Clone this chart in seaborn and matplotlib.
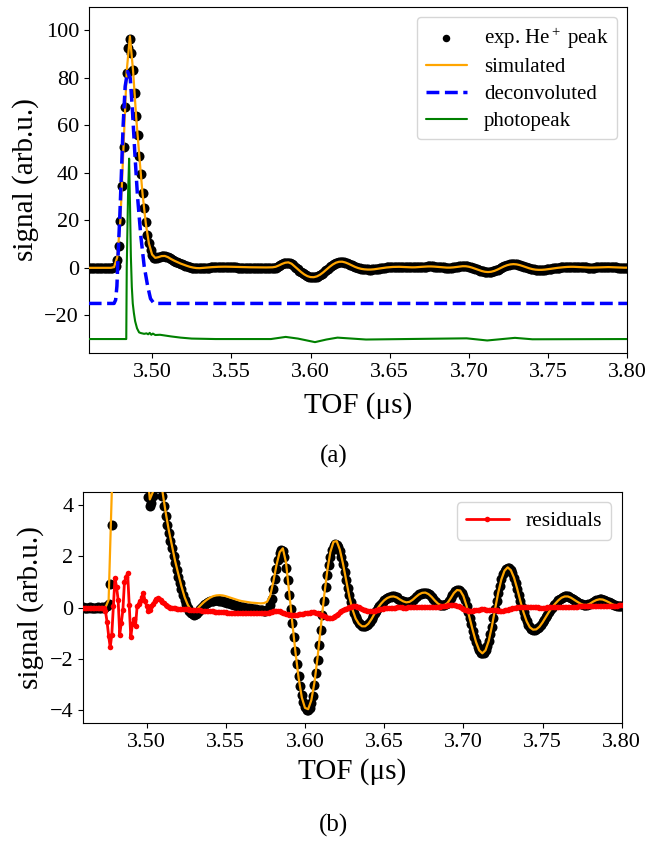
import numpy as np
import pandas as pd
import matplotlib
matplotlib.use("Agg")
import matplotlib.pyplot as plt
import seaborn as sns

# sampling of the traces (TOF in microseconds)
t_start = 3.460
step_exp = 0.001   # 1 ns digitizer samples (exp. points, residuals)
step_sim = 0.002   # simulated trace

# measured He+ peak, one row = 10 ns, row start in the comment
exp_peak = [
    0.01, 0.0, -0.01, 0.0, 0.01, 0.0, 0.0, -0.01, 0.0, 0.01,          # 3.460
    0.0, 0.0, 0.01, 0.0, 0.02, 0.05, 0.15, 0.9, 3.2, 9.1,             # 3.470
    19.6, 34.4, 50.8, 67.7, 82.1, 92.6, 96.5, 90.5, 83.5, 73.6,       # 3.480
    63.8, 56.1, 47.0, 39.5, 31.6, 25.2, 19.2, 14.0, 10.5, 7.6,        # 3.490
    5.5, 4.3, 3.95, 4.05, 4.35, 4.65, 4.85, 4.95, 4.9, 4.7,           # 3.500
    4.35, 3.95, 3.55, 3.2, 2.9, 2.6, 2.3, 2.0, 1.72, 1.45,            # 3.510
    1.2, 0.95, 0.72, 0.5, 0.3, 0.13, -0.02, -0.13, -0.22, -0.27,      # 3.520
    -0.28, -0.26, -0.2, -0.12, -0.04, 0.03, 0.09, 0.14, 0.18, 0.21,   # 3.530
    0.24, 0.26, 0.27, 0.28, 0.28, 0.28, 0.27, 0.26, 0.24, 0.22,       # 3.540
    0.2, 0.18, 0.16, 0.14, 0.12, 0.1, 0.08, 0.06, 0.05, 0.03,         # 3.550
    0.02, 0.01, 0.0, -0.01, -0.02, -0.03, -0.04, -0.05, -0.06, -0.07, # 3.560
    -0.08, -0.09, -0.1, -0.11, -0.12, -0.12, -0.1, -0.05, 0.1, 0.35,  # 3.570
    0.7, 1.1, 1.5, 1.85, 2.1, 2.22, 2.2, 1.95, 1.55, 1.05,            # 3.580
    0.5, -0.05, -0.6, -1.15, -1.7, -2.2, -2.65, -3.05, -3.4, -3.68,   # 3.590
    -3.88, -3.98, -4.0, -3.92, -3.72, -3.42, -3.02, -2.55, -2.02, -1.45,  # 3.600
    -0.87, -0.3, 0.25, 0.78, 1.25, 1.65, 1.98, 2.22, 2.38, 2.45,      # 3.610
    2.44, 2.35, 2.18, 1.95, 1.68, 1.38, 1.07, 0.77, 0.48, 0.22,       # 3.620
    -0.01, -0.2, -0.36, -0.49, -0.59, -0.66, -0.7, -0.72, -0.72, -0.69,   # 3.630
    -0.63, -0.55, -0.45, -0.34, -0.23, -0.12, -0.02, 0.07, 0.15, 0.22,    # 3.640
    0.28, 0.33, 0.37, 0.4, 0.42, 0.43, 0.43, 0.42, 0.39, 0.35,        # 3.650
    0.31, 0.27, 0.24, 0.21, 0.2, 0.2, 0.22, 0.25, 0.3, 0.35,          # 3.660
    0.41, 0.46, 0.51, 0.54, 0.57, 0.58, 0.58, 0.56, 0.52, 0.47,       # 3.670
    0.41, 0.34, 0.27, 0.2, 0.15, 0.11, 0.09, 0.08, 0.09, 0.12,        # 3.680
    0.18, 0.26, 0.36, 0.47, 0.56, 0.63, 0.68, 0.69, 0.66, 0.58,       # 3.690
    0.45, 0.28, 0.07, -0.16, -0.41, -0.66, -0.9, -1.13, -1.34, -1.52, # 3.700
    -1.66, -1.75, -1.78, -1.75, -1.66, -1.51, -1.3, -1.04, -0.74, -0.41,  # 3.710
    -0.07, 0.26, 0.57, 0.85, 1.09, 1.29, 1.43, 1.51, 1.54, 1.52,      # 3.720
    1.45, 1.33, 1.16, 0.96, 0.73, 0.49, 0.25, 0.02, -0.19, -0.38,     # 3.730
    -0.54, -0.67, -0.77, -0.83, -0.86, -0.87, -0.85, -0.81, -0.75, -0.67, # 3.740
    -0.58, -0.48, -0.38, -0.28, -0.18, -0.09, 0.0, 0.08, 0.15, 0.22,  # 3.750
    0.28, 0.33, 0.38, 0.41, 0.43, 0.44, 0.43, 0.41, 0.38, 0.34,       # 3.760
    0.3, 0.26, 0.22, 0.18, 0.15, 0.12, 0.1, 0.1, 0.1, 0.12,           # 3.770
    0.15, 0.19, 0.23, 0.26, 0.29, 0.31, 0.32, 0.32, 0.31, 0.29,       # 3.780
    0.26, 0.23, 0.2, 0.16, 0.13, 0.1, 0.08, 0.07, 0.06, 0.06,         # 3.790
    0.06,                                                             # 3.800
]

# simulated signal, one row = 10 ns (2 ns steps)
sim_peak = [
    0.0, 0.0, 0.0, 0.0, 0.0,          # 3.460
    0.0, 0.0, 0.0, 0.3, 4.5,          # 3.470
    20.0, 51.0, 83.0, 97.5, 83.0,     # 3.480
    63.0, 46.5, 31.0, 18.8, 10.2,     # 3.490
    5.6, 4.2, 4.5, 4.95, 5.0,         # 3.500
    4.5, 3.7, 3.0, 2.4, 1.8,          # 3.510
    1.3, 0.82, 0.4, 0.1, -0.1,        # 3.520
    -0.15, -0.05, 0.08, 0.2, 0.3,     # 3.530
    0.38, 0.44, 0.47, 0.48, 0.47,     # 3.540
    0.44, 0.4, 0.36, 0.32, 0.28,      # 3.550
    0.25, 0.23, 0.21, 0.19, 0.18,     # 3.560
    0.17, 0.16, 0.17, 0.22, 0.45,     # 3.570
    1.0, 1.65, 2.15, 2.3, 1.75,       # 3.580
    0.6, -0.6, -1.75, -2.75, -3.5,    # 3.590
    -3.9, -3.95, -3.6, -2.9, -1.9,    # 3.600
    -0.75, 0.4, 1.4, 2.15, 2.55,      # 3.610
    2.58, 2.25, 1.7, 1.05, 0.42,      # 3.620
    -0.08, -0.43, -0.63, -0.73, -0.73,  # 3.630
    -0.63, -0.45, -0.23, -0.02, 0.15, # 3.640
    0.28, 0.37, 0.42, 0.43, 0.39,     # 3.650
    0.31, 0.24, 0.2, 0.22, 0.3,       # 3.660
    0.41, 0.51, 0.57, 0.58, 0.52,     # 3.670
    0.41, 0.27, 0.15, 0.09, 0.09,     # 3.680
    0.18, 0.36, 0.56, 0.68, 0.66,     # 3.690
    0.45, 0.07, -0.41, -0.9, -1.34,   # 3.700
    -1.66, -1.78, -1.66, -1.3, -0.74, # 3.710
    -0.07, 0.57, 1.09, 1.43, 1.56,    # 3.720
    1.45, 1.16, 0.73, 0.25, -0.19,    # 3.730
    -0.54, -0.77, -0.86, -0.85, -0.75,  # 3.740
    -0.58, -0.38, -0.18, 0.0, 0.15,   # 3.750
    0.28, 0.38, 0.43, 0.43, 0.38,     # 3.760
    0.3, 0.22, 0.15, 0.1, 0.1,        # 3.770
    0.15, 0.23, 0.29, 0.32, 0.31,     # 3.780
    0.26, 0.2, 0.13, 0.08, 0.06,      # 3.790
    0.06,                             # 3.800
]

# residuals (exp - sim), 1 ns steps
residuals = [
    0.0, 0.0, 0.0, 0.0, 0.0, 0.0, 0.0, 0.0, 0.0, 0.0,                 # 3.460
    0.0, 0.0, 0.0, 0.0, -0.15, -0.55, -1.1, -1.55, -1.05, 0.05,       # 3.470
    1.15, 0.8, 0.3, -1.05, -0.6, -0.1, 1.0, 1.2, 1.33, 0.1,           # 3.480
    -1.15, -0.65, -0.45, -0.7, 0.05, 0.15, 0.25, 0.4, 0.55, 0.25,     # 3.490
    0.05, -0.15, -0.1, 0.05, 0.15, 0.25, 0.33, 0.36, 0.33, 0.28,      # 3.500
    0.22, 0.16, 0.1, 0.06, 0.03, 0.0, -0.01, -0.02, -0.03, -0.04,     # 3.510
    -0.04, -0.05, -0.05, -0.06, -0.06, -0.07, -0.07, -0.08, -0.08, -0.09, # 3.520
    -0.09, -0.1, -0.1, -0.11, -0.11, -0.12, -0.12, -0.13, -0.13, -0.14,   # 3.530
    -0.14, -0.15, -0.15, -0.16, -0.16, -0.17, -0.17, -0.18, -0.18, -0.19, # 3.540
    -0.19, -0.2, -0.2, -0.21, -0.21, -0.21, -0.22, -0.22, -0.22, -0.22,   # 3.550
    -0.21, -0.22, -0.22, -0.23, -0.22, -0.22, -0.21, -0.22, -0.23, -0.22, # 3.560
    -0.22, -0.22, -0.21, -0.21, -0.22, -0.22, -0.21, -0.2, -0.19, -0.17,  # 3.570
    -0.15, -0.13, -0.12, -0.12, -0.14, -0.17, -0.2, -0.23, -0.25, -0.27,  # 3.580
    -0.28, -0.28, -0.28, -0.28, -0.28, -0.28, -0.27, -0.26, -0.25, -0.24, # 3.590
    -0.23, -0.22, -0.21, -0.2, -0.19, -0.19, -0.19, -0.2, -0.22, -0.25,   # 3.600
    -0.28, -0.31, -0.34, -0.37, -0.39, -0.4, -0.4, -0.39, -0.36, -0.32,   # 3.610
    -0.28, -0.24, -0.19, -0.15, -0.11, -0.07, -0.04, -0.01, 0.01, 0.03,   # 3.620
    0.04, 0.04, 0.04, 0.03, 0.01, -0.02, -0.05, -0.08, -0.1, -0.12,       # 3.630
    -0.13, -0.14, -0.14, -0.13, -0.12, -0.1, -0.08, -0.06, -0.05, -0.04,  # 3.640
    -0.03, -0.02, -0.02, -0.01, -0.01, 0.0, 0.0, 0.0, 0.01, 0.01,         # 3.650
    0.01, 0.01, 0.0, 0.0, 0.0, 0.01, 0.01, 0.02, 0.02, 0.02,              # 3.660
    0.02, 0.02, 0.01, 0.01, 0.01, 0.02, 0.02, 0.02, 0.03, 0.03,           # 3.670
    0.03, 0.02, 0.02, 0.02, 0.03, 0.03, 0.04, 0.05, 0.06, 0.07,           # 3.680
    0.08, 0.09, 0.1, 0.1, 0.1, 0.09, 0.07, 0.04, 0.01, -0.03,             # 3.690
    -0.07, -0.09, -0.11, -0.12, -0.13, -0.13, -0.12, -0.11, -0.1, -0.09,  # 3.700
    -0.08, -0.07, -0.07, -0.07, -0.08, -0.08, -0.09, -0.1, -0.1, -0.11,   # 3.710
    -0.11, -0.11, -0.12, -0.12, -0.12, -0.12, -0.11, -0.1, -0.09, -0.07,  # 3.720
    -0.05, -0.03, -0.01, 0.0, 0.01, 0.02, 0.03, 0.03, 0.03, 0.03,         # 3.730
    0.03, 0.03, 0.02, 0.02, 0.02, 0.01, 0.01, 0.01, 0.0, 0.0,             # 3.740
    0.0, 0.0, 0.0, 0.01, 0.01, 0.01, 0.01, 0.02, 0.02, 0.02,              # 3.750
    0.02, 0.02, 0.02, 0.02, 0.03, 0.03, 0.03, 0.03, 0.03, 0.03,           # 3.760
    0.03, 0.03, 0.03, 0.04, 0.04, 0.04, 0.04, 0.04, 0.04, 0.04,           # 3.770
    0.04, 0.04, 0.05, 0.05, 0.05, 0.05, 0.05, 0.05, 0.06, 0.06,           # 3.780
    0.06, 0.06, 0.06, 0.07, 0.07, 0.07, 0.07, 0.07, 0.08, 0.08,           # 3.790
    0.08,                                                                 # 3.800
]

# deconvoluted peak (offset by -15)
deconv_t = [3.460, 3.476, 3.477, 3.4778, 3.4786, 3.4797, 3.4807, 3.4817, 3.4830,
            3.4845, 3.4862, 3.4877, 3.4891, 3.4908, 3.4929, 3.4950, 3.4972,
            3.4990, 3.5010, 3.5030, 3.800]
deconv_y = [-15.0, -15.0, -13.5, -7.7, 6.3, 23.0, 41.0, 59.6, 76.4,
            82.7, 80.0, 65.2, 48.4, 30.1, 13.3, 0.7, -7.7,
            -13.0, -14.8, -15.0, -15.0]

# photopeak (offset by -30)
photo_t = [3.460, 3.4837, 3.4840, 3.4848, 3.4855, 3.4861, 3.4866, 3.4872, 3.4878,
           3.4885, 3.4893, 3.4905, 3.4918, 3.4930, 3.4950, 3.4965, 3.4975,
           3.4985, 3.4995, 3.5005, 3.5020, 3.5050, 3.5080, 3.5120, 3.5180,
           3.5250, 3.5400, 3.5750, 3.5843, 3.5920, 3.6028, 3.6100, 3.6170,
           3.6260, 3.6350, 3.6600, 3.6985, 3.7115, 3.7290, 3.7400, 3.800]
photo_y = [-30.0, -30.0, 0.0, 30.0, 46.0, 25.0, 5.0, -8.0, -15.0,
           -19.0, -22.5, -25.5, -27.2, -27.5, -27.8, -27.6, -28.0,
           -27.4, -28.2, -27.7, -28.3, -28.2, -28.5, -28.9, -29.4,
           -29.8, -30.0, -30.0, -29.1, -29.8, -31.3, -30.2, -29.4,
           -29.8, -30.2, -30.0, -29.7, -30.6, -29.5, -30.1, -30.0]

t_exp = t_start + step_exp * np.arange(len(exp_peak))
t_sim = t_start + step_sim * np.arange(len(sim_peak))
t_res = t_start + step_exp * np.arange(len(residuals))

df_exp = pd.DataFrame({"t": t_exp, "signal": exp_peak})
df_sim = pd.DataFrame({"t": t_sim, "signal": sim_peak})
df_res = pd.DataFrame({"t": t_res, "signal": residuals})

sns.set_theme(style="ticks", rc={
    "axes.edgecolor": "black", "axes.linewidth": 0.8,
    "xtick.color": "black", "ytick.color": "black",
    "xtick.major.size": 3.5, "ytick.major.size": 3.5,
    "xtick.major.width": 0.8, "ytick.major.width": 0.8,
    "text.color": "black", "axes.labelcolor": "black",
    "mathtext.fontset": "custom", "mathtext.rm": "Liberation Serif",
    "mathtext.it": "Liberation Serif:italic",
})
plt.rcParams["font.family"] = ["Liberation Serif", "DejaVu Serif"]

fig = plt.figure(figsize=(6.68, 8.46), dpi=100)
ax1 = fig.add_axes([0.1328, 0.5824, 0.8065, 0.4097])
ax2 = fig.add_axes([0.1247, 0.1450, 0.8060, 0.2738])

dot_size = 52

# (a) full peak
sns.scatterplot(data=df_exp, x="t", y="signal", ax=ax1, color="black", s=dot_size,
                linewidth=0, label="exp. He$^+$ peak", zorder=2)
sns.lineplot(data=df_sim, x="t", y="signal", ax=ax1, color="orange", lw=1.6,
             estimator=None, sort=False, label="simulated", zorder=3)
sns.lineplot(x=deconv_t, y=deconv_y, ax=ax1, color="blue", lw=2.5, linestyle="--",
             estimator=None, sort=False, label="deconvoluted", zorder=4)
sns.lineplot(x=photo_t, y=photo_y, ax=ax1, color="green", lw=1.5,
             estimator=None, sort=False, label="photopeak", zorder=5)
ax1.set_xlim(3.46, 3.80)
ax1.set_ylim(-36, 110)
ax1.set_xticks([3.50, 3.55, 3.60, 3.65, 3.70, 3.75, 3.80])
ax1.set_yticks([-20, 0, 20, 40, 60, 80, 100])
ax1.set_xlabel("TOF (μs)", fontsize=21, labelpad=7)
ax1.set_ylabel("signal (arb.u.)", fontsize=21)
ax1.tick_params(labelsize=16)
leg1 = ax1.legend(loc="upper right", fontsize=15, labelspacing=0.35, markerscale=0.75)

# (b) zoom on the baseline with residuals
sns.scatterplot(data=df_exp, x="t", y="signal", ax=ax2, color="black", s=dot_size,
                linewidth=0, legend=False, zorder=2)
sns.lineplot(data=df_sim, x="t", y="signal", ax=ax2, color="orange", lw=1.6,
             estimator=None, sort=False, legend=False, zorder=3)
sns.lineplot(data=df_res, x="t", y="signal", ax=ax2, color="red", lw=2,
             marker=".", markersize=8, markeredgewidth=0,
             estimator=None, sort=False, label="residuals", zorder=4)
ax2.set_xlim(3.46, 3.80)
ax2.set_ylim(-4.5, 4.5)
ax2.set_xticks([3.50, 3.55, 3.60, 3.65, 3.70, 3.75, 3.80])
ax2.set_yticks([-4, -2, 0, 2, 4])
ax2.set_xlabel("TOF (μs)", fontsize=21)
ax2.set_ylabel("signal (arb.u.)", fontsize=21)
ax2.tick_params(labelsize=16)
ax2.legend(loc="upper right", fontsize=15.5)

fig.text(0.5, 0.460, "(a)", ha="center", va="center", fontsize=18)
fig.text(0.5, 0.024, "(b)", ha="center", va="center", fontsize=18)

fig.savefig("out.png", dpi=100)
